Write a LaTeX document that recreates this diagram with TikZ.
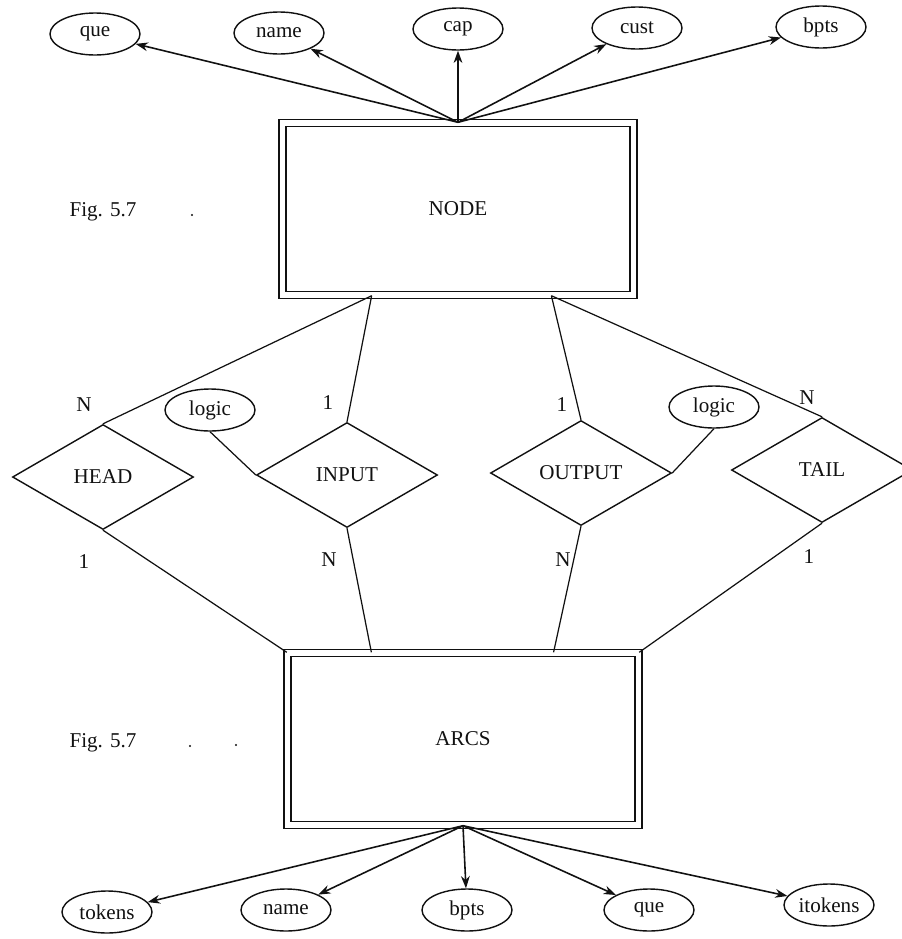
\documentclass[tikz,border=0pt]{standalone}
\usepackage{fontspec}
\setmainfont{Liberation Serif}
\usepackage{tikz}
\usetikzlibrary{arrows.meta, calc, shapes.geometric}
\definecolor{ink}{HTML}{111111}

\tikzset{
  entity/.style={draw=ink, double, double distance=3pt, line width=0.8pt,
    minimum width=7.02cm, minimum height=3.44cm},
  attrib/.style={ellipse, draw=ink, line width=0.8pt, minimum width=1.8cm,
    minimum height=0.84cm, inner sep=0pt},
  rel/.style={diamond, draw=ink, line width=0.8pt, minimum width=3.62cm,
    minimum height=2.1cm, inner sep=0pt},
  link/.style={draw=ink, line width=0.7pt},
  attrarrow/.style={draw=ink, line width=0.9pt, -{Stealth[length=7pt,width=5pt]}},
  dotmark/.style={fill=ink}
}

\begin{document}
\begin{tikzpicture}[x=0.2mm, y=-0.2mm,
    every node/.style={font=\fontsize{12}{14}\selectfont, text=ink}]
    \useasboundingbox (0,0) rectangle (902,939);

    % entities
    \node[entity] (node-ent) at (458,209) {NODE};
    \node[entity] (arcs-ent) at (463,739) {ARCS};
    \node (fig-top) at (103,212) {Fig. 5.7};
    \node (fig-bot) at (103,743) {Fig. 5.7};
    \fill[dotmark] (192,215) circle (0.7pt);
    \fill[dotmark] (190,746) circle (0.7pt);
    \fill[dotmark] (236,745) circle (0.7pt);

    % attributes of NODE
    \foreach \lbl/\x/\y in {que/95/34, name/279/33, cap/458/29, cust/637/28, bpts/821/27} {
      \node[attrib] (top-\lbl) at (\x,\y) {\lbl};
      \draw[attrarrow] (node-ent.north) -- (top-\lbl);
    }

    % attributes of ARCS
    \foreach \lbl/\x/\y in {tokens/107/912, name/286/910, bpts/467/910, que/649/910, itokens/829/905} {
      \node[attrib] (bot-\lbl) at (\x,\y) {\lbl};
      \draw[attrarrow] (arcs-ent.south) -- (bot-\lbl);
    }

    % relations
    \node[rel] (head) at (103,477) {HEAD};
    \node[rel] (input) at (347,475) {INPUT};
    \node[rel] (output) at (581,473) {OUTPUT};
    \node[rel] (tail) at (822,470) {TAIL};
    \node[attrib] (logic-in) at (210,410) {logic};
    \node[attrib] (logic-out) at (714,407) {logic};

    \coordinate (nodeL) at ($(node-ent.south west)!0.255!(node-ent.south east)$);
    \coordinate (nodeR) at ($(node-ent.south west)!0.765!(node-ent.south east)$);
    \coordinate (arcsL) at ($(arcs-ent.north west)!0.24!(arcs-ent.north east)$);
    \coordinate (arcsR) at ($(arcs-ent.north west)!0.757!(arcs-ent.north east)$);

    \draw[link] (nodeL) -- (head.north);
    \draw[link] (nodeL) -- (input.north);
    \draw[link] (nodeR) -- (output.north);
    \draw[link] (nodeR) -- (tail.north);
    \draw[link] (head.south) -- (arcs-ent.north west);
    \draw[link] (input.south) -- (arcsL);
    \draw[link] (output.south) -- (arcsR);
    \draw[link] (tail.south) -- (arcs-ent.north east);
    \draw[link] (logic-in.south) -- (input.west);
    \draw[link] (logic-out.south) -- (output.east);

    % cardinalities
    \node (c-head-n) at (84,405) {N};
    \node (c-head-1) at (84,562) {1};
    \node (c-input-1) at (328,403) {1};
    \node (c-input-n) at (329,560) {N};
    \node (c-output-1) at (562,405) {1};
    \node (c-output-n) at (563,560) {N};
    \node (c-tail-n) at (807,398) {N};
    \node (c-tail-1) at (809,557) {1};
  \end{tikzpicture}
\end{document}
